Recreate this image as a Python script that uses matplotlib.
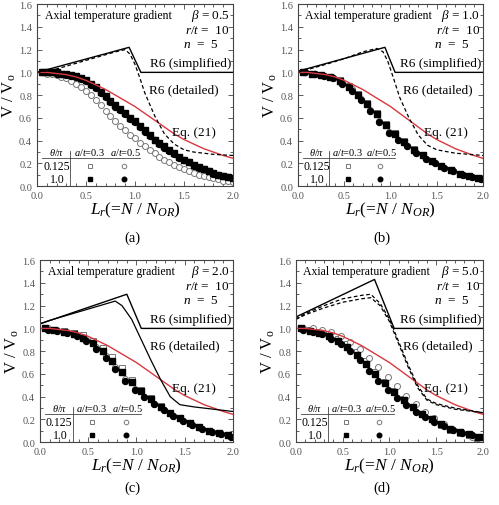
import matplotlib
matplotlib.use("Agg")
from matplotlib import pyplot as plt
from matplotlib.ticker import MultipleLocator, FormatStrFormatter

plt.rcParams["font.family"] = ["Liberation Serif", "DejaVu Serif"]
plt.rcParams["mathtext.fontset"] = "custom"
plt.rcParams["mathtext.rm"] = "Liberation Serif"
plt.rcParams["mathtext.it"] = "Liberation Serif:italic"

# --- data -----------------------------------------------------------
panel_labels = ["(a)", "(b)", "(c)", "(d)"]
betas = ["0.5", "1.0", "2.0", "5.0"]

# Eq. (21), same in every panel
eq_x = [0.0, 0.1, 0.2, 0.3, 0.4, 0.5, 0.6, 0.7, 0.8, 0.9, 1.0,
        1.1, 1.2, 1.3, 1.4, 1.5, 1.6, 1.7, 1.8, 1.9, 2.0]
eq_y = [1.0, 1.0, 0.99, 0.98, 0.96, 0.93, 0.89, 0.85, 0.80, 0.75, 0.70,
        0.64, 0.58, 0.52, 0.46, 0.41, 0.37, 0.33, 0.30, 0.27, 0.245]

# R6 simplified
a_simp_x = [0.0, 0.94, 1.06, 2.0]
a_simp_y = [1.0, 1.22, 1.0, 1.0]
b_simp_x = [0.0, 0.94, 1.05, 2.0]
b_simp_y = [1.01, 1.22, 1.0, 1.0]
c_simp_x = [0.0, 0.9, 1.05, 2.0]
c_simp_y = [1.04, 1.3, 1.0, 1.0]
d_simp_x = [0.0, 0.84, 1.05, 2.0]
d_simp_y = [1.1, 1.43, 1.0, 1.0]

# R6 detailed
a_det_x = [0.0, 0.2, 0.4, 0.6, 0.8, 0.9, 0.95, 1.0, 1.05, 1.1, 1.2, 1.3, 1.4, 1.5, 1.6, 1.8, 2.0]
a_det_y = [1.0, 1.03, 1.08, 1.13, 1.18, 1.2, 1.16, 1.07, 0.95, 0.82, 0.62, 0.46, 0.37, 0.32, 0.30, 0.28, 0.27]
b_det_x = [0.0, 0.3, 0.5, 0.7, 0.85, 0.92, 0.97, 1.02, 1.1, 1.2, 1.3, 1.4, 1.5, 1.7, 2.0]
b_det_y = [1.0, 1.07, 1.12, 1.18, 1.21, 1.18, 1.1, 0.98, 0.78, 0.6, 0.45, 0.36, 0.32, 0.29, 0.27]
c_det_x = [0.0, 0.1, 0.3, 0.5, 0.7, 0.78, 0.85, 0.95, 1.05, 1.15, 1.25, 1.35, 1.45, 1.6, 1.8, 2.0]
c_det_y = [1.04, 1.07, 1.12, 1.17, 1.22, 1.24, 1.2, 1.08, 0.9, 0.72, 0.55, 0.4, 0.33, 0.31, 0.29, 0.27]
d_det_x = [0.0, 0.1, 0.3, 0.5, 0.7, 0.8, 0.9, 1.0, 1.1, 1.2, 1.3, 1.4, 1.5, 1.7, 2.0]
d_det_y = [1.08, 1.13, 1.2, 1.26, 1.29, 1.3, 1.22, 1.08, 0.88, 0.68, 0.5, 0.38, 0.34, 0.3, 0.26]
d_det2_y = [1.08, 1.12, 1.18, 1.23, 1.26, 1.27, 1.2, 1.06, 0.86, 0.66, 0.48, 0.37, 0.33, 0.29, 0.26]

# FE results, panel (a) (dense)
a_x = [0.05, 0.10, 0.15, 0.20, 0.25, 0.30, 0.35, 0.40, 0.45, 0.50,
       0.55, 0.60, 0.65, 0.70, 0.75, 0.80, 0.85, 0.90, 0.95, 1.00,
       1.05, 1.10, 1.15, 1.20, 1.25, 1.30, 1.35, 1.40, 1.45, 1.50,
       1.55, 1.60, 1.65, 1.70, 1.75, 1.80, 1.85, 1.90, 1.95, 2.00]
a_sq_fill = [1.0, 1.0, 1.0, 1.0, 0.99, 0.99, 0.98, 0.97, 0.95, 0.93,
             0.90, 0.87, 0.83, 0.79, 0.75, 0.71, 0.68, 0.64, 0.60, 0.57,
             0.53, 0.49, 0.45, 0.41, 0.38, 0.35, 0.32, 0.29, 0.26, 0.23,
             0.21, 0.19, 0.17, 0.15, 0.13, 0.12, 0.10, 0.09, 0.08, 0.07]
a_ci_fill = [1.0, 1.0, 1.0, 0.99, 0.99, 0.98, 0.97, 0.96, 0.94, 0.92,
             0.89, 0.86, 0.82, 0.78, 0.74, 0.70, 0.67, 0.63, 0.59, 0.56,
             0.52, 0.48, 0.44, 0.41, 0.37, 0.34, 0.31, 0.28, 0.25, 0.23,
             0.21, 0.18, 0.16, 0.15, 0.13, 0.11, 0.10, 0.09, 0.08, 0.07]
a_sq_open = a_sq_fill
a_ci_open = [1.0, 0.99, 0.99, 0.98, 0.96, 0.95, 0.92, 0.90, 0.87, 0.84,
             0.80, 0.76, 0.71, 0.66, 0.62, 0.57, 0.53, 0.49, 0.45, 0.42,
             0.38, 0.35, 0.32, 0.29, 0.26, 0.23, 0.21, 0.19, 0.17, 0.15,
             0.13, 0.12, 0.10, 0.09, 0.08, 0.07, 0.06, 0.05, 0.05, 0.04]

# FE results, panels (b)-(d)
s_x = [0.05, 0.15, 0.25, 0.35, 0.45, 0.55, 0.65, 0.75, 0.85, 0.95,
       1.05, 1.15, 1.25, 1.35, 1.45, 1.55, 1.65, 1.75, 1.85, 1.95]
c_x = [0.08, 0.18, 0.28, 0.38, 0.48, 0.58, 0.68, 0.78, 0.88, 0.98,
       1.08, 1.18, 1.28, 1.38, 1.48, 1.58, 1.68, 1.78, 1.88, 1.98]

b_sq_fill = [1.0, 0.99, 0.98, 0.96, 0.92, 0.87, 0.80, 0.72, 0.63, 0.54,
             0.46, 0.39, 0.32, 0.27, 0.22, 0.18, 0.14, 0.11, 0.09, 0.07]
b_ci_fill = [1.0, 0.99, 0.97, 0.95, 0.90, 0.84, 0.76, 0.66, 0.56, 0.47,
             0.41, 0.35, 0.29, 0.24, 0.20, 0.16, 0.13, 0.10, 0.08, 0.06]
b_sq_open = [1.0, 0.99, 0.98, 0.96, 0.93, 0.88, 0.81, 0.73, 0.64, 0.55,
             0.47, 0.40, 0.33, 0.27, 0.22, 0.18, 0.14, 0.11, 0.09, 0.07]
b_ci_open = [1.0, 0.99, 0.97, 0.95, 0.91, 0.85, 0.77, 0.67, 0.57, 0.48,
             0.41, 0.35, 0.29, 0.24, 0.20, 0.16, 0.13, 0.10, 0.08, 0.06]

c_sq_fill = [1.0, 0.99, 0.97, 0.95, 0.92, 0.87, 0.80, 0.71, 0.62, 0.53,
             0.45, 0.38, 0.31, 0.26, 0.21, 0.17, 0.13, 0.10, 0.08, 0.06]
c_ci_fill = [0.99, 0.98, 0.96, 0.93, 0.89, 0.82, 0.74, 0.64, 0.54, 0.46,
             0.40, 0.34, 0.28, 0.23, 0.19, 0.15, 0.12, 0.09, 0.07, 0.05]
c_sq_open = [1.0, 0.99, 0.98, 0.96, 0.94, 0.89, 0.83, 0.75, 0.65, 0.55,
             0.46, 0.39, 0.32, 0.26, 0.21, 0.17, 0.13, 0.10, 0.08, 0.06]
c_ci_open = [1.0, 0.99, 0.97, 0.94, 0.90, 0.84, 0.76, 0.66, 0.56, 0.47,
             0.40, 0.34, 0.28, 0.23, 0.19, 0.15, 0.12, 0.09, 0.07, 0.05]

d_sq_fill = [1.0, 0.98, 0.96, 0.93, 0.89, 0.84, 0.77, 0.69, 0.60, 0.52,
             0.44, 0.37, 0.31, 0.25, 0.20, 0.16, 0.12, 0.09, 0.07, 0.05]
d_ci_fill = [0.99, 0.97, 0.95, 0.91, 0.86, 0.80, 0.72, 0.63, 0.54, 0.46,
             0.39, 0.33, 0.27, 0.22, 0.18, 0.14, 0.11, 0.08, 0.06, 0.05]
d_sq_open = [1.0, 0.99, 0.97, 0.95, 0.91, 0.86, 0.79, 0.71, 0.62, 0.53,
             0.45, 0.38, 0.31, 0.25, 0.20, 0.15, 0.11, 0.08, 0.06, 0.04]
d_ci_open = [1.0, 1.0, 0.99, 0.97, 0.93, 0.88, 0.82, 0.74, 0.66, 0.57,
             0.49, 0.41, 0.34, 0.27, 0.21, 0.16, 0.11, 0.08, 0.05, 0.03]

# --- figure -----------------------------------------------------------
fig = plt.figure(figsize=(4.99, 5.06), dpi=100)
boxes = [[0.074, 0.630, 0.393, 0.360],
         [0.597, 0.630, 0.371, 0.360],
         [0.080, 0.124, 0.387, 0.360],
         [0.593, 0.124, 0.375, 0.360]]
label_pos = [(0.265, 0.530), (0.765, 0.530), (0.265, 0.036), (0.765, 0.036)]
RED = "#d9383f"
GRAY = "#444444"

panels = [
    (a_simp_x, a_simp_y, [(a_det_x, a_det_y, "--")],
     a_x, a_x, a_sq_open, a_ci_open, a_sq_fill, a_ci_fill),
    (b_simp_x, b_simp_y, [(b_det_x, b_det_y, "--")],
     s_x, c_x, b_sq_open, b_ci_open, b_sq_fill, b_ci_fill),
    (c_simp_x, c_simp_y, [(c_det_x, c_det_y, "-")],
     s_x, c_x, c_sq_open, c_ci_open, c_sq_fill, c_ci_fill),
    (d_simp_x, d_simp_y, [(d_det_x, d_det_y, "--"), (d_det_x, d_det2_y, "--")],
     s_x, c_x, d_sq_open, d_ci_open, d_sq_fill, d_ci_fill),
]

ms = 4.3
fs = 9.5
for i, (box, p) in enumerate(zip(boxes, panels)):
    sx, sy, dets, xs, xc, sqo, cio, sqf, cif = p
    ax = fig.add_axes(box)
    ax.plot(xs, sqo, "s", mfc="white", mec="#777777", ms=ms, mew=0.7)
    ax.plot(xc, cio, "o", mfc="white", mec="#777777", ms=ms, mew=0.7)
    ax.plot(xs, sqf, "s", color="black", ms=ms)
    ax.plot(xc, cif, "o", color="black", ms=ms)
    ax.plot(eq_x, eq_y, color=RED, lw=1.0)
    for dx, dy, ls in dets:
        if ls == "--":
            ax.plot(dx, dy, color="black", lw=0.9, dashes=(3, 2))
        else:
            ax.plot(dx, dy, color="black", lw=0.9)
    ax.plot(sx, sy, color="black", lw=1.0)

    ax.set_xlim(0, 2.0)
    ax.set_ylim(0, 1.6)
    ax.xaxis.set_major_locator(MultipleLocator(0.5))
    ax.xaxis.set_minor_locator(MultipleLocator(0.1))
    ax.yaxis.set_major_locator(MultipleLocator(0.2))
    ax.yaxis.set_minor_locator(MultipleLocator(0.1))
    ax.tick_params(which="both", direction="in", top=True, right=True,
                   labelsize=7.5, labelcolor="#555555", color=GRAY, width=0.6)
    ax.tick_params(which="major", length=3.5)
    ax.tick_params(which="minor", length=2)
    ax.xaxis.set_major_formatter(FormatStrFormatter("%.1f"))
    ax.yaxis.set_major_formatter(FormatStrFormatter("%.1f"))
    for sp in ax.spines.values():
        sp.set_color(GRAY)
        sp.set_linewidth(0.8)

    ax.set_ylabel("V / V$_{\\rm o}$", fontsize=12, labelpad=1)
    ax.set_xlabel("$L_r$(=$N$ / $N_{OR}$)", fontsize=12.5, labelpad=0)

    # annotations
    ax.text(0.08, 1.5, "Axial temperature gradient", fontsize=8.5, va="center")
    ax.text(1.97, 1.5, "$\\beta$ = " + betas[i], fontsize=fs, va="center", ha="right")
    ax.text(1.97, 1.37, "$r/t$ =  10", fontsize=fs, va="center", ha="right")
    ax.text(1.85, 1.25, "$n$  =  5", fontsize=fs, va="center", ha="right")
    ax.text(1.98, 1.03, "R6 (simplified)", fontsize=fs, va="bottom", ha="right")
    ax.text(1.14, 0.85, "R6 (detailed)", fontsize=fs, va="center", ha="left")
    ax.text(1.6, 0.48, "Eq. (21)", fontsize=fs, va="center", ha="center")

    # inset key
    ax.plot([0.05, 1.05], [0.25, 0.25], color=GRAY, lw=0.6)
    ax.plot([0.34, 0.34], [0.0, 0.31], color=GRAY, lw=0.6)
    ax.text(0.2, 0.258, "$\\theta/\\pi$", fontsize=7.5, ha="center", va="bottom")
    ax.text(0.54, 0.258, "$a/t$=0.3", fontsize=7.5, ha="center", va="bottom")
    ax.text(0.91, 0.258, "$a/t$=0.5", fontsize=7.5, ha="center", va="bottom")
    ax.text(0.2, 0.175, "0.125", fontsize=8.5, ha="center", va="center")
    ax.text(0.21, 0.065, "1.0", fontsize=8.5, ha="center", va="center")
    ax.plot([0.54], [0.175], "s", mfc="white", mec="#777777", ms=3.3, mew=0.7)
    ax.plot([0.89], [0.175], "o", mfc="white", mec="#777777", ms=3.3, mew=0.7)
    ax.plot([0.54], [0.065], "s", color="black", ms=3.3)
    ax.plot([0.89], [0.065], "o", color="black", ms=3.3)

    fig.text(label_pos[i][0], label_pos[i][1], panel_labels[i],
             fontsize=10.5, ha="center", va="center")

fig.savefig("out.png", dpi=100)
